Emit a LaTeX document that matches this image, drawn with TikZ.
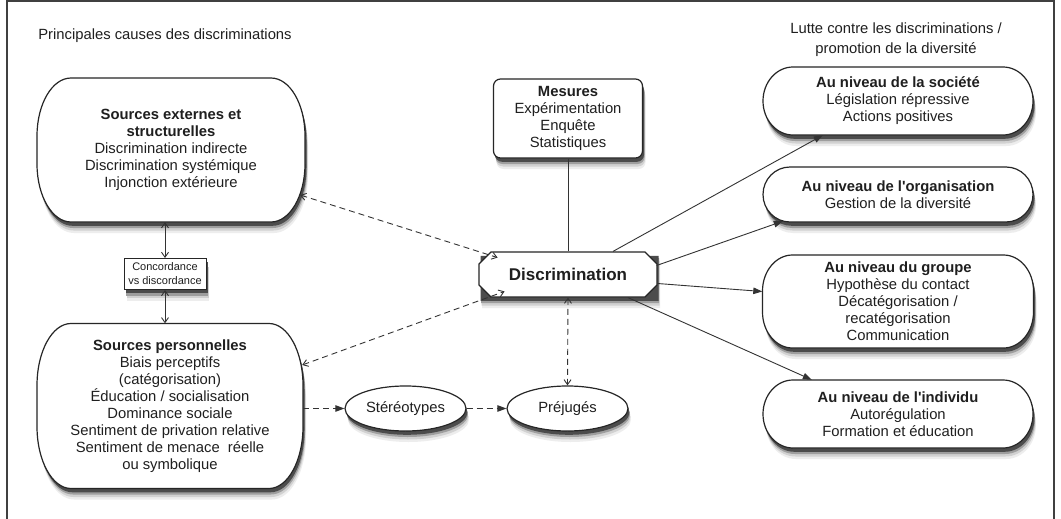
\documentclass[tikz,border=0pt]{standalone}
\usepackage{fontspec}
\setmainfont{Liberation Sans}[Ligatures=TeXOff]
\usetikzlibrary{arrows.meta,shapes.misc,shapes.geometric,calc}
% #1 cx, #2 cy, #3 w, #4 h, #5 rx, #6 ry, #7 dx, #8 dy, #9 style
\newcommand\ovat[9]{%
  \path[#9] ({#1-#3/2+#5+#7},{#2-#4/2+#8}) -- ({#1+#3/2-#5+#7},{#2-#4/2+#8})
    arc[start angle=-90,end angle=0,x radius=#5,y radius=#6]
    -- ({#1+#3/2+#7},{#2+#4/2-#6+#8})
    arc[start angle=0,end angle=90,x radius=#5,y radius=#6]
    -- ({#1-#3/2+#5+#7},{#2+#4/2+#8})
    arc[start angle=90,end angle=180,x radius=#5,y radius=#6]
    -- ({#1-#3/2+#7},{#2-#4/2+#6+#8})
    arc[start angle=180,end angle=270,x radius=#5,y radius=#6] -- cycle;}
\newcommand\ovfull[6]{%
  \ovat{#1}{#2}{#3}{#4}{#5}{#6}{3}{11}{fill=black!7}
  \ovat{#1}{#2}{#3}{#4}{#5}{#6}{2.5}{8.5}{fill=black!18}
  \ovat{#1}{#2}{#3}{#4}{#5}{#6}{2}{6}{fill=black!38}
  \ovat{#1}{#2}{#3}{#4}{#5}{#6}{1.5}{3.8}{fill=black!70}
  \ovat{#1}{#2}{#3}{#4}{#5}{#6}{0}{0}{shp}}
% #1 style, #2 name, #3 cx, #4 cy
\newcommand\nshadow[4]{%
  \node[#1, fill=black!7, draw=none] (#2-s1) at ({#3+3},{#4+11}) {};
  \node[#1, fill=black!18, draw=none] (#2-s2) at ({#3+2.5},{#4+8.5}) {};
  \node[#1, fill=black!38, draw=none] (#2-s3) at ({#3+2},{#4+6}) {};
  \node[#1, fill=black!70, draw=none] (#2-s4) at ({#3+1.5},{#4+3.8}) {};}
\begin{document}
\begin{tikzpicture}[x=1pt,y=-1pt,
  txt/.style={font=\fontsize{14.8}{17}\selectfont, align=center, text=black!88},
  shp/.style={draw=black!85, line width=1.2pt, fill=white},
  tbox/.style={txt, inner sep=0pt},
  concshape/.style={inner sep=0pt, minimum width=82pt, minimum height=31pt},
  messhape/.style={inner sep=0pt, rounded corners=7pt, minimum width=149pt, minimum height=79pt},
  discshape/.style={inner sep=0pt, chamfered rectangle, chamfered rectangle xsep=6pt, chamfered rectangle ysep=6pt, minimum width=178pt, minimum height=45pt},
  ellshape/.style={inner sep=0pt, ellipse, minimum width=121pt, minimum height=45pt},
  conn/.style={draw=black!80, line width=0.9pt},
  dsh/.style={conn, dash pattern=on 6pt off 4pt},
  bothopen/.style={{Straight Barb[length=5pt,width=7pt]}-{Straight Barb[length=5pt,width=7pt]}},
  tri/.style={-{Triangle[length=9pt,width=6.5pt]}}
]
\fill[white] (0,0) rectangle (1061,519);
\useasboundingbox (0,0) rectangle (1061,519);
\draw[black!75, line width=1.4pt] (7,519) -- (7,1) -- (1054,1) -- (1054,519);

% box outlines with shadows
\ovfull{171}{150}{268}{144}{34}{58}
\ovfull{170}{406}{266}{165}{34}{62}
\ovfull{898}{101}{270}{68}{30}{34}
\ovfull{898}{194.5}{270}{55}{27}{27.5}
\ovfull{898}{301.5}{271}{93}{30}{36}
\ovfull{898}{414}{270}{68}{30}{34}
\nshadow{concshape}{conc}{165}{274}
\nshadow{messhape}{mes}{568}{118.5}
\nshadow{discshape}{disc}{568}{274.5}
\nshadow{ellshape}{ster}{405.5}{408.5}
\nshadow{ellshape}{prej}{567.5}{408.5}

\node[txt] (t1) at (165,36) {Principales causes des discriminations};
\node[txt, font=\fontsize{14.8}{20}\selectfont] (t2) at (896,40) {Lutte contre les discriminations /\\promotion de la diversité};

\node[tbox, minimum width=268pt, minimum height=144pt] (ext) at (171,150)
  {\textbf{Sources externes et}\\\textbf{structurelles}\\Discrimination indirecte\\Discrimination systémique\\Injonction extérieure};
\node[txt, shp, concshape, line width=1pt, font=\fontsize{11}{14}\selectfont] (conc) at (165,274)
  {Concordance\\vs discordance};
\node[tbox, minimum width=266pt, minimum height=165pt] (pers) at (170,406)
  {\textbf{Sources personnelles}\\Biais perceptifs\\(catégorisation)\\Éducation / socialisation\\Dominance sociale\\Sentiment de privation relative\\Sentiment de menace\ \ réelle\\ou symbolique};

\node[txt, shp, messhape] (mes) at (568,118.5)
  {\textbf{Mesures}\\Expérimentation\\Enquête\\Statistiques};
\node[txt, shp, discshape, font=\fontsize{17}{20}\selectfont\bfseries] (disc) at (568,274.5) {Discrimination};

\node[txt, shp, ellshape] (ster) at (405.5,408.5) {Stéréotypes};
\node[txt, shp, ellshape] (prej) at (567.5,408.5) {Préjugés};

\node[tbox, minimum width=270pt, minimum height=68pt] (soc) at (898,101)
  {\textbf{Au niveau de la société}\\Législation répressive\\Actions positives};
\node[tbox, minimum width=270pt, minimum height=55pt] (org) at (898,194.5)
  {\textbf{Au niveau de l'organisation}\\Gestion de la diversité};
\node[tbox, minimum width=271pt, minimum height=93pt] (grp) at (898,301.5)
  {\textbf{Au niveau du groupe}\\Hypothèse du contact\\Décatégorisation /\\recatégorisation\\Communication};
\node[tbox, minimum width=270pt, minimum height=68pt] (ind) at (898,414)
  {\textbf{Au niveau de l'individu}\\Autorégulation\\Formation et éducation};

% connectors
\draw[conn] (mes.south) -- (disc.north);
\draw[conn, bothopen] (conc.north) -- (conc.north |- ext.south);
\draw[conn, bothopen] (conc.south) -- (conc.south |- pers.north);
\draw[dsh, bothopen] ($(ext.east)+(-5,45)$) -- ($(disc.north west)+(13,0)$);
\draw[dsh, bothopen] ($(pers.east)+(-1,-41)$) -- ($(disc.south west)+(20,0)$);
\draw[dsh, bothopen] (disc.south) -- (prej.north);
\draw[dsh, tri] (pers.east |- ster) -- (ster);
\draw[dsh, tri] (ster) -- (prej);
\draw[conn, tri] ($(disc.north)+(45,0)$) -- ($(soc.south west)+(60,0)$);
\draw[conn, tri] ($(disc.east)+(-1,-9)$) -- ($(org.south west)+(20,-1)$);
\draw[conn, tri] ($(disc.east)+(0,9)$) -- ($(grp.west)+(0,-10)$);
\draw[conn, tri] ($(disc.south)+(60,0)$) -- ($(ind.north west)+(49,0)$);
\end{tikzpicture}
\end{document}
